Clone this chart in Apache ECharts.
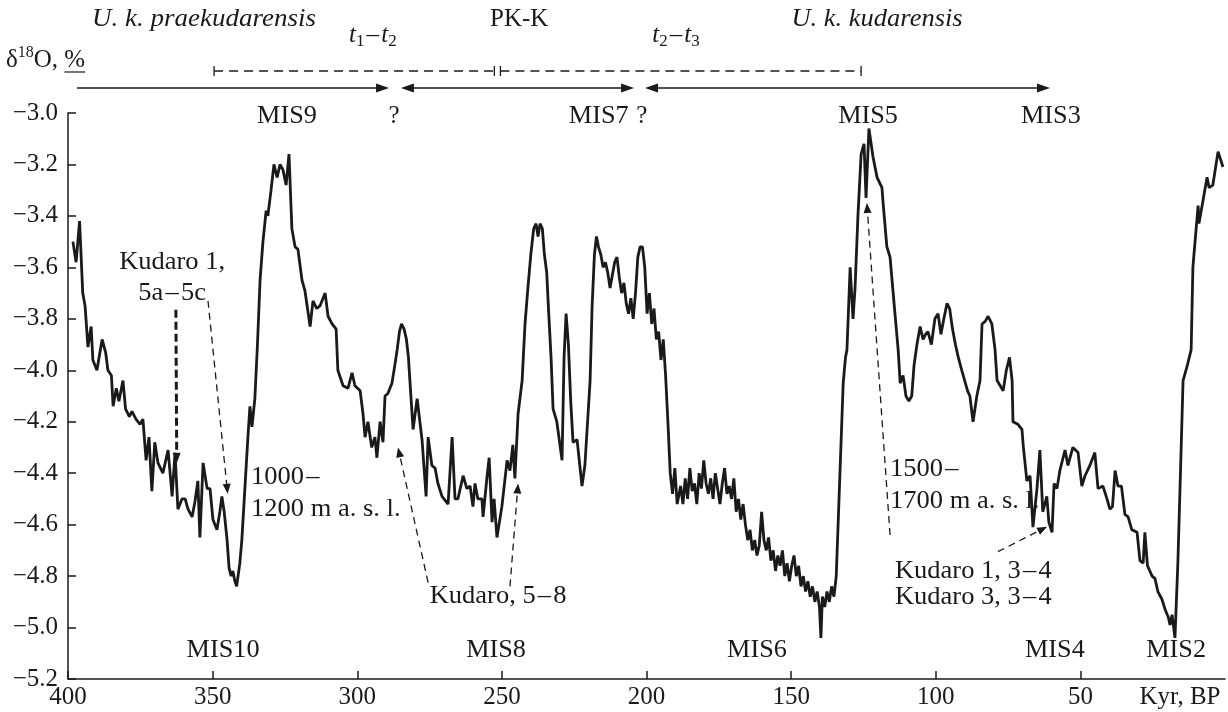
<!DOCTYPE html>
<html>
<head>
<meta charset="utf-8">
<script src="https://cdn.jsdelivr.net/npm/echarts@6/dist/echarts.min.js"></script>
<style>
html, body { margin: 0; padding: 0; background: #fff; }
#main { width: 1228px; height: 712px; }
</style>
</head>
<body>
<div id="main"></div>
<script>
// δ18O record, ages in kyr BP
const ageKyr = [
  398.3, 397.2, 396.0, 394.9, 394.1, 393.1, 392.0, 391.4, 390.0, 388.2,
  387.0, 386.2, 385.0, 384.4, 383.3, 382.4, 381.0, 380.1, 378.8, 377.9,
  376.5, 375.1, 374.1, 373.0, 372.0, 371.0, 370.0, 368.9, 367.2, 365.4,
  364.0, 363.0, 362.0, 360.6, 359.5, 358.5, 357.1, 356.1, 355.1, 354.4,
  353.3, 351.9, 350.9, 349.9, 348.5, 347.5, 346.8, 346.0, 345.0, 344.3,
  343.6, 343.0, 342.3, 341.7, 340.6, 339.9, 338.8, 337.8, 337.1, 336.4,
  335.4, 334.5, 333.6, 332.6, 331.5, 330.9, 329.8, 328.8, 327.7, 326.7,
  325.7, 324.6, 323.6, 322.6, 321.5, 320.5, 319.1, 318.1, 316.3, 315.3,
  314.0, 312.9, 311.1, 310.1, 308.7, 307.3, 306.7, 304.9, 303.2, 301.8,
  300.8, 299.0, 298.0, 297.3, 296.3, 295.0, 293.9, 293.2, 292.1, 291.1,
  290.4, 289.4, 288.0, 287.0, 286.2, 285.4, 284.7, 283.8, 283.0, 282.3,
  281.8, 280.7, 279.3, 277.6, 276.2, 275.5, 274.2, 273.1, 272.1, 270.7,
  268.6, 267.2, 266.2, 265.2, 263.4, 262.1, 261.0, 260.0, 259.3, 258.3,
  256.9, 256.5, 255.1, 254.4, 253.4, 252.7, 251.7, 250.0, 248.2, 247.2,
  246.2, 245.5, 244.4, 243.0, 242.0, 241.0, 240.0, 239.0, 238.2, 237.5,
  236.8, 236.0, 235.3, 234.5, 233.8, 233.0, 232.3, 231.0, 229.2, 228.5,
  227.8, 227.0, 226.2, 225.4, 224.0, 222.3, 221.3, 219.5, 218.8, 218.0,
  217.3, 216.6, 215.8, 215.0, 214.2, 213.4, 212.6, 211.8, 211.0, 210.2,
  209.4, 208.6, 207.8, 207.0, 206.2, 205.4, 204.6, 203.8, 203.0, 202.2,
  201.4, 200.6, 199.8, 199.0, 198.2, 197.4, 196.6, 195.8, 195.0, 194.2,
  193.4, 192.6, 191.8, 191.0, 190.2, 189.4, 188.2, 187.4, 186.6, 185.8,
  185.0, 184.2, 183.4, 182.6, 181.8, 181.0, 180.2, 179.4, 178.6, 177.8,
  177.0, 176.2, 175.4, 174.6, 173.8, 173.0, 172.2, 171.4, 170.6, 169.8,
  169.0, 168.2, 167.4, 166.6, 165.8, 165.0, 164.2, 163.4, 162.6, 161.8,
  161.0, 160.2, 159.4, 158.6, 157.8, 157.0, 156.2, 155.4, 154.6, 153.8,
  153.0, 152.2, 151.4, 150.6, 149.8, 149.0, 148.2, 147.4, 146.6, 145.8,
  145.0, 144.2, 143.4, 142.6, 141.8, 141.0, 140.2, 139.7, 139.2, 138.4,
  137.6, 136.8, 136.0, 135.2, 134.4, 133.6, 132.8, 132.0, 131.2, 130.7,
  129.6, 128.6, 127.9, 126.9, 125.8, 124.8, 124.1, 123.1, 121.7, 120.3,
  118.6, 118.2, 116.9, 115.8, 114.1, 113.0, 112.3, 111.3, 110.3, 109.3,
  108.3, 107.5, 106.5, 105.4, 104.4, 103.5, 102.7, 101.5, 100.3, 99.2,
  98.2, 97.2, 96.1, 95.2, 94.2, 93.2, 92.2, 91.0, 90.0, 89.0,
  88.2, 87.1, 85.8, 84.7, 84.0, 82.9, 81.9, 80.6, 79.5, 78.8,
  77.7, 76.7, 75.6, 74.5, 73.6, 73.3, 71.6, 70.2, 69.7, 68.5,
  67.4, 66.4, 65.0, 64.0, 63.0, 61.6, 60.9, 59.8, 59.1, 58.1,
  57.1, 55.3, 54.3, 52.6, 50.8, 49.5, 48.4, 46.7, 45.0, 43.9,
  42.2, 40.8, 39.8, 38.9, 38.0, 37.0, 35.8, 34.6, 33.5, 32.2,
  30.4, 29.4, 28.3, 27.7, 26.8, 25.2, 24.2, 23.2, 21.8, 20.7,
  19.6, 19.0, 18.3, 17.3, 16.3, 15.4, 14.5, 13.0, 11.7, 11.1,
  9.3, 9.0, 7.6, 6.2, 5.5, 4.2, 2.4, 0.7
];
const d18O = [
  -3.50, -3.58, -3.42, -3.70, -3.75, -3.91, -3.83, -3.96, -4.00, -3.88,
  -3.93, -4.00, -4.02, -4.14, -4.07, -4.12, -4.04, -4.15, -4.18, -4.16,
  -4.19, -4.21, -4.19, -4.35, -4.26, -4.47, -4.28, -4.36, -4.40, -4.31,
  -4.49, -4.32, -4.54, -4.50, -4.50, -4.54, -4.57, -4.51, -4.43, -4.65,
  -4.36, -4.46, -4.46, -4.58, -4.62, -4.55, -4.49, -4.55, -4.66, -4.77,
  -4.80, -4.78, -4.82, -4.84, -4.75, -4.66, -4.45, -4.26, -4.14, -4.22,
  -4.11, -3.90, -3.65, -3.50, -3.38, -3.40, -3.30, -3.20, -3.25, -3.20,
  -3.22, -3.28, -3.16, -3.45, -3.52, -3.53, -3.65, -3.69, -3.83, -3.73,
  -3.76, -3.75, -3.70, -3.79, -3.82, -3.84, -4.00, -4.06, -4.07, -4.01,
  -4.06, -4.08, -4.17, -4.26, -4.20, -4.30, -4.26, -4.34, -4.20, -4.28,
  -4.10, -4.09, -4.05, -3.98, -3.92, -3.85, -3.82, -3.84, -3.88, -3.95,
  -4.04, -4.23, -4.11, -4.27, -4.49, -4.26, -4.37, -4.38, -4.44, -4.49,
  -4.52, -4.26, -4.50, -4.50, -4.41, -4.46, -4.45, -4.53, -4.44, -4.50,
  -4.50, -4.57, -4.41, -4.34, -4.59, -4.50, -4.65, -4.53, -4.35, -4.39,
  -4.29, -4.42, -4.17, -4.04, -3.82, -3.68, -3.55, -3.45, -3.43, -3.48,
  -3.43, -3.45, -3.55, -3.62, -3.78, -3.95, -4.15, -4.20, -4.35, -3.95,
  -3.78, -3.90, -4.12, -4.28, -4.27, -4.45, -4.37, -4.04, -3.75, -3.55,
  -3.48, -3.52, -3.55, -3.60, -3.58, -3.62, -3.68, -3.63, -3.58, -3.56,
  -3.64, -3.70, -3.66, -3.74, -3.78, -3.72, -3.80, -3.70, -3.56, -3.52,
  -3.52, -3.60, -3.78, -3.70, -3.82, -3.76, -3.88, -3.85, -3.96, -3.88,
  -4.02, -4.20, -4.40, -4.48, -4.38, -4.52, -4.45, -4.52, -4.42, -4.50,
  -4.38, -4.47, -4.44, -4.52, -4.40, -4.46, -4.35, -4.44, -4.48, -4.42,
  -4.50, -4.40, -4.46, -4.52, -4.44, -4.38, -4.48, -4.45, -4.50, -4.42,
  -4.55, -4.50, -4.58, -4.52, -4.60, -4.66, -4.62, -4.70, -4.66, -4.72,
  -4.68, -4.55, -4.66, -4.70, -4.65, -4.74, -4.70, -4.78, -4.72, -4.76,
  -4.70, -4.80, -4.75, -4.82, -4.76, -4.72, -4.80, -4.76, -4.84, -4.80,
  -4.86, -4.82, -4.88, -4.84, -4.90, -4.86, -4.92, -5.04, -4.88, -4.92,
  -4.86, -4.90, -4.84, -4.88, -4.80, -4.55, -4.30, -4.05, -3.95, -3.92,
  -3.60, -3.80, -3.68, -3.40, -3.16, -3.12, -3.33, -3.06, -3.17, -3.25,
  -3.29, -3.35, -3.52, -3.56, -3.78, -3.92, -4.05, -4.02, -4.10, -4.12,
  -4.10, -3.98, -3.90, -3.83, -3.88, -3.86, -3.85, -3.90, -3.80, -3.78,
  -3.86, -3.80, -3.74, -3.76, -3.84, -3.90, -3.95, -4.00, -4.04, -4.08,
  -4.10, -4.20, -4.10, -4.04, -3.82, -3.81, -3.79, -3.82, -3.92, -4.04,
  -4.06, -4.08, -4.00, -3.95, -4.04, -4.20, -4.21, -4.23, -4.30, -4.43,
  -4.41, -4.61, -4.46, -4.31, -4.55, -4.49, -4.59, -4.63, -4.44, -4.46,
  -4.39, -4.31, -4.37, -4.30, -4.32, -4.45, -4.41, -4.37, -4.32, -4.46,
  -4.45, -4.50, -4.54, -4.53, -4.39, -4.45, -4.45, -4.56, -4.57, -4.62,
  -4.63, -4.74, -4.75, -4.63, -4.76, -4.80, -4.81, -4.86, -4.89, -4.93,
  -4.96, -4.99, -4.95, -5.04, -4.75, -4.40, -4.04, -3.98, -3.92, -3.60,
  -3.36, -3.43, -3.34, -3.25, -3.29, -3.28, -3.15, -3.21
];
const xTickValues = [400, 350, 300, 250, 200, 150, 100, 50];
// marine isotope stage labels: [text, age]
const misAbove = [['MIS9', 324.3], ['MIS7', 216.5], ['MIS5', 123.4], ['MIS3', 60.2]];
const misBelow = [['MIS10', 346.4], ['MIS8', 252.0], ['MIS6', 161.8], ['MIS4', 58.8], ['MIS2', 16.9]];

const FONT = 'Liberation Serif';
const INK = '#1a1a1a';
const FS = 25;
const DASH = '\u200a\u2013\u200a';

let chart = echarts.init(document.getElementById('main'), null, { renderer: 'canvas' });

chart.setOption({
  animation: false,
  backgroundColor: '#fff',
  grid: { left: 68, right: 3, top: 113, bottom: 33, containLabel: false, outerBoundsMode: 'none' },
  xAxis: {
    type: 'value', inverse: true, min: 0, max: 400, interval: 50,
    axisLine: { show: true, onZero: false, lineStyle: { color: INK, width: 1.5 } },
    axisTick: { show: true, inside: true, length: 8, customValues: xTickValues, lineStyle: { color: INK, width: 1.5 } },
    axisLabel: { customValues: xTickValues, color: INK, fontFamily: FONT, fontSize: FS, margin: 6 },
    splitLine: { show: false }
  },
  yAxis: {
    type: 'value', min: -5.2, max: -3.0, interval: 0.2,
    axisLine: { show: true, onZero: false, lineStyle: { color: INK, width: 1.5 } },
    axisTick: { show: true, inside: true, length: 8, lineStyle: { color: INK, width: 1.5 } },
    axisLabel: {
      color: INK, fontFamily: FONT, fontSize: FS, margin: 10,
      formatter: v => v.toFixed(1).replace('-', '\u2212')
    },
    splitLine: { show: false }
  },
  series: [{
    type: 'line',
    data: ageKyr.map((a, i) => [a, d18O[i]]),
    symbol: 'none',
    lineStyle: { color: INK, width: 2.8 },
    clip: false
  }]
});

// --- annotations ---
const ctx = document.createElement('canvas').getContext('2d');
function measure(str, size, italic) {
  ctx.font = (italic ? 'italic ' : '') + size + 'px "' + FONT + '"';
  return ctx.measureText(str).width;
}
const X = a => chart.convertToPixel({ xAxisIndex: 0 }, a);
const P = (a, v) => chart.convertToPixel({ gridIndex: 0 }, [a, v]);

function label(x, y, str, opt) {
  opt = opt || {};
  return {
    type: 'text', silent: true, x: x, y: y, scaleX: opt.sx || 1,
    style: {
      text: str, x: 0, y: 0, fill: INK,
      fontFamily: FONT, fontSize: opt.size || FS, fontStyle: opt.italic ? 'italic' : 'normal',
      align: opt.align || 'center', verticalAlign: 'middle'
    }
  };
}
// several pieces (normal / italic / sub / sup) laid out on one line
function pieces(x, y, parts, align) {
  let total = 0;
  parts.forEach(p => { p.w = measure(p.t, p.size || FS, p.italic); total += p.w; });
  let cx = align === 'left' ? x : x - total / 2;
  const out = [];
  parts.forEach(p => {
    out.push(label(cx, y + (p.dy || 0), p.t, { size: p.size, italic: p.italic, align: 'left' }));
    cx += p.w;
  });
  return out;
}
function seg(x1, y1, x2, y2, w, dash) {
  return {
    type: 'line', silent: true,
    shape: { x1: x1, y1: y1, x2: x2, y2: y2 },
    style: { stroke: INK, lineWidth: w, lineDash: dash || null }
  };
}
function head(x0, y0, x1, y1, len, half) {
  const d = Math.hypot(x1 - x0, y1 - y0) || 1;
  const ux = (x1 - x0) / d, uy = (y1 - y0) / d;
  const bx = x1 - ux * len, by = y1 - uy * len;
  return {
    type: 'polygon', silent: true,
    shape: { points: [[x1, y1], [bx - uy * half, by + ux * half], [bx + uy * half, by - ux * half]] },
    style: { fill: INK }
  };
}
// dashed arrow between two data points, head at the end
function dashArrow(a0, v0, a1, v1, w, dash) {
  const p0 = P(a0, v0), p1 = P(a1, v1);
  const d = Math.hypot(p1[0] - p0[0], p1[1] - p0[1]);
  const k = (d - 8) / d;
  return [
    seg(p0[0], p0[1], p0[0] + (p1[0] - p0[0]) * k, p0[1] + (p1[1] - p0[1]) * k, w, dash),
    head(p0[0], p0[1], p1[0], p1[1], 10, 4)
  ];
}

const g = [];
const sub = (t) => ({ t: t, size: 17, dy: 7 });

// top row: taxa and intervals
g.push(label(X(353), 19, 'U. k. praekudarensis', { italic: true, sx: 1.08 }));
g.push(label(X(244), 19, 'PK-K'));
g.push(label(X(120.3), 19, 'U. k. kudarensis', { italic: true, sx: 1.06 }));
const tDash = { t: '\u200a\u2013\u200a' };
g.push(...pieces(X(294.6), 35, [{ t: 't', italic: true }, sub('1'), tDash, { t: 't', italic: true }, sub('2')]));
g.push(...pieces(X(189.8), 35, [{ t: 't', italic: true }, sub('2'), tDash, { t: 't', italic: true }, sub('3')]));

// y axis title δ18O, ‰ (printed as underlined %)
g.push(...pieces(6, 60, [{ t: '\u03b4' }, { t: '18', size: 16, dy: -7 }, { t: 'O, %' }], 'left'));
const pw = measure('%', FS);
const tEnd = 6 + measure('\u03b4', FS) + measure('18', 16) + measure('O, %', FS);
g.push(seg(tEnd - pw, 72, tEnd, 72, 1.2));

// dashed intervals t1–t2 and t2–t3
const yD = 71;
[[349.5, 252.6], [250.5, 125.8]].forEach(r => {
  const xa = X(r[0]), xb = X(r[1]);
  g.push(seg(xa, yD, xb, yD, 1.3, [9, 6]));
  g.push(seg(xa, yD - 5, xa, yD + 5, 1.3));
  g.push(seg(xb, yD - 5, xb, yD + 5, 1.3));
});

// solid range arrows
const yA = 88;
[[396.9, 289.0, false], [284.9, 204.3, true], [200.5, 60.5, true]].forEach(r => {
  const xa = X(r[0]), xb = X(r[1]);
  g.push(seg(r[2] ? xa + 10 : xa, yA, xb - 10, yA, 1.5));
  g.push(head(xa, yA, xb, yA, 13, 4.5));
  if (r[2]) g.push(head(xb, yA, xa, yA, 13, 4.5));
});

// stage labels
g.push(label(X(287.3), 116, '?'));
g.push(label(X(201.6), 116, '?'));
misAbove.forEach(m => g.push(label(X(m[1]), 116, m[0], { sx: 1.05 })));
misBelow.forEach(m => g.push(label(X(m[1]), 650, m[0], { sx: 1.05 })));
g.push(label(1180, 697, 'Kyr, BP'));

// in-plot notes (positions in data units)
function note(a, v, str, align) {
  const p = P(a, v);
  return label(p[0], p[1], str, { align: align || 'center', sx: 1.06 });
}
g.push(note(364.0, -3.58, 'Kudaro 1,'));
g.push(note(364.0, -3.70, '5a' + DASH + '5c'));
g.push(...dashArrow(362.7, -3.765, 362.4, -4.36, 3, [8, 4]));
g.push(...dashArrow(351.6, -3.73, 344.8, -4.48, 1.3, [7, 5]));
g.push(note(336.7, -4.415, '1000' + DASH, 'left'));
g.push(note(336.7, -4.54, '1200 m a. s. l.', 'left'));

g.push(note(251.3, -4.88, 'Kudaro, 5' + DASH + '8'));
g.push(...dashArrow(275.5, -4.825, 285.9, -4.30, 1.3, [7, 5]));
g.push(...dashArrow(247.2, -4.84, 244.4, -4.44, 1.3, [7, 5]));

g.push(note(115.8, -4.386, '1500' + DASH, 'left'));
g.push(note(115.8, -4.511, '1700 m a. s. l.', 'left'));
g.push(...dashArrow(115.8, -4.64, 123.8, -3.35, 1.3, [7, 5]));

g.push(note(114.1, -4.783, 'Kudaro 1, 3' + DASH + '4', 'left'));
g.push(note(114.1, -4.883, 'Kudaro 3, 3' + DASH + '4', 'left'));
g.push(...dashArrow(78.5, -4.705, 61.5, -4.608, 1.3, [7, 5]));

chart.setOption({ graphic: { elements: g } });
</script>
</body>
</html>
